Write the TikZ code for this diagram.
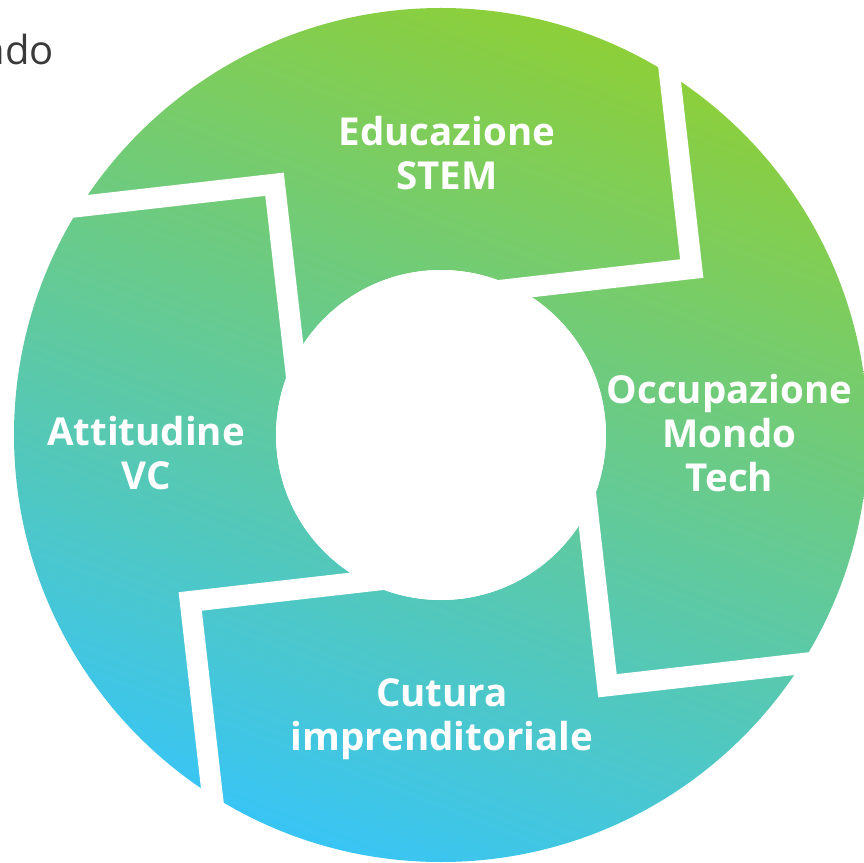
\documentclass[tikz,border=0pt]{standalone}
\usepackage{fontspec}
\setmainfont{Open Sans}
\definecolor{ringgreen}{HTML}{8DCF3A}
\definecolor{ringblue}{HTML}{39C5F4}
\definecolor{ndogray}{HTML}{3A3A3A}
\tikzset{
  ringlabel/.style={text=white, font=\fontsize{38.5}{44}\selectfont\bfseries,
    align=center, inner sep=0pt, anchor=base},
  gapband/.style={draw=white, line width=21pt, line join=miter},
}
\begin{document}
\begin{tikzpicture}[x=1pt,y=1pt]
  \useasboundingbox (-441,-427) rectangle (423,435);
%%
  % Ring: outer radius 427, hole radius 165
  \shade[top color=ringgreen, bottom color=ringblue, shading angle=-21, even odd rule]
    (0,0) circle (427pt) (0,0) circle (165pt);
  % Gaps between the four pieces
  \foreach \a in {0,90,180,270}
    \draw[gapband, rotate=6.5+\a] (268,480) -- (268,137) -- (60,137);
  % Hole
  \fill[white] (0,0) circle (165pt);
  % Node: edu
  \node[ringlabel] (edu) at (6,245) {Educazione\\STEM};
  % Node: occ
  \node[ringlabel] (occ) at (288.5,-56) {Occupazione\\Mondo\\Tech};
  % Node: att
  \node[ringlabel] (att) at (-295,-54) {Attitudine\\VC};
  % Node: cult
  \node[ringlabel] (cult) at (1,-315) {Cutura\\imprenditoriale};
  % Node: ndo
  \node[font=\fontsize{40}{48}\selectfont, text=ndogray, anchor=base east,
    inner sep=0pt] (ndo) at (-387,370) {ndo};
%
\end{tikzpicture}
\end{document}
